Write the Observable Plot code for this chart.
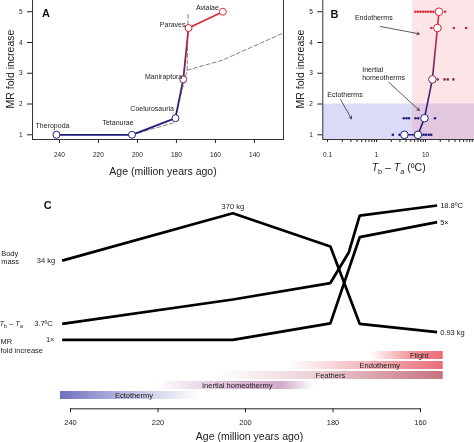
<!DOCTYPE html>
<html>
<head>
<meta charset="utf-8">
<script src="https://cdn.jsdelivr.net/npm/d3@7"></script>
<script src="https://cdn.jsdelivr.net/npm/@observablehq/plot@0.6"></script>
<style>
html,body{margin:0;padding:0;background:#fff;overflow:hidden}
#root{position:relative;width:474px;height:442px;overflow:hidden;background:#fff}
#root svg{position:absolute;max-width:none;will-change:transform}
</style>
</head>
<body>
<div id="root"></div>
<script>
// ---------------- data ----------------
const clades   = ["Theropoda","Tetanurae","Coelurosauria","Maniraptora","Paraves","Avialae"];
const cladeAge = [241.5, 202.8, 180.5, 176.5, 173.8, 156.2];
const mrFold   = [1, 1, 1.54, 2.8, 4.47, 5];
const tempDiff = [3.7, 7.0, 9.5, 13.8, 17.5, 18.8];

// dashed reference curves (panel A)
const refAge1 = [202.8, 181.4, 174.5, 174.0];
const refMR1  = [1, 1.39, 3.1, 4.99];
const refAge2 = [174.5, 156.6, 125.1];
const refMR2  = [3.1, 3.42, 4.31];

// individual taxa (panel B)
const taxaLevels = [1, 1.54, 2.8, 4.47, 5];
const taxaTemps = [
  [2.15, 2.95, 3.3, 8.2, 9.2, 10.3, 11.7, 13.1],
  [3.6, 4.1, 4.6, 6.25, 7.1, 15.6],
  [17.7, 24.5, 28.5, 37],
  [13.2, 37.8, 67.6],
  [6.2, 7.0, 7.9, 8.9, 10.0, 11.3, 12.8, 14.5, 16.5, 25]
];

// shaded zones (panel B)
const zoneNames = ["Ectotherm zone", "Endotherm zone"];
const zoneTempLo = [0.08, 5.4];
const zoneTempHi = [100, 100];
const zoneMRLo   = [0.847, 0.847];
const zoneMRHi   = [2, 5.43];

// annotations (panel B)
const noteText = ["Endotherms", "Inertial\nhomeotherms", "Ectotherms"];
const noteTemp = [0.88, 0.51, 0.227];
const noteMR   = [4.8, 2.98, 2.3];
const arrowTempFrom = [1.2, 1.78, 0.184];
const arrowMRFrom   = [4.52, 2.71, 2.15];
const arrowTempTo   = [7.5, 7.5, 0.308];
const arrowMRTo     = [4.28, 1.79, 1.52];

// panel C series
const massAge = [241.9, 202.9, 180.6, 173.9, 156.2];
const massKg  = [34, 370, 69, 1.42, 0.93];
const tdAge   = [241.9, 202.9, 180.6, 176.4, 173.9, 156.2];
const tdC     = [3.7, 6.8, 8.9, 12.8, 17.5, 18.8];
const mrAge   = [241.9, 202.9, 180.6, 173.9, 156.2];
const mrC     = [1, 1, 1.56, 4.49, 5];

const traitNames   = ["Flight","Endothermy","Feathers","Inertial homeothermy","Ectothermy"];
const traitFrom    = [171.4, 190.5, 206.5, 220.2, 242.3];
const traitTo      = [154.8, 154.8, 154.8, 184.4, 210.3];
const traitLabelAt = [160.3, 169.3, 180.6, 201.9, 225.5];

// ticks
const ageTicksA = [240, 220, 200, 180, 160, 140];
const ageTicksC = [240, 220, 200, 180, 160];
const mrTicks   = [1, 2, 3, 4, 5];
const tempMajor = [0.1, 1, 10];
const tempMinor = [0.2,0.3,0.4,0.5,0.6,0.7,0.8,0.9,2,3,4,5,6,7,8,9,20,30,40,50,60,70,80,90];

// ---------------- helpers ----------------
const FONT = "'Liberation Sans', Arial, Helvetica, sans-serif";
const style = fs => ({background:"transparent", fontFamily:FONT, fontSize:fs+"px", overflow:"visible", color:"#222"});
const root = document.getElementById("root");
function place(svg, left, top){ svg.style.left = left+"px"; svg.style.top = top+"px"; root.appendChild(svg); return svg; }
function addGrad(svg, id, attrs, stops){
  let defs = d3.select(svg).select("defs");
  if (defs.empty()) defs = d3.select(svg).insert("defs", ":first-child");
  const g = defs.append("linearGradient").attr("id", id);
  for (const k in attrs) g.attr(k, attrs[k]);
  for (const [o, c, op] of stops) g.append("stop").attr("offset", o).attr("stop-color", c).attr("stop-opacity", op);
}
function subscriptify(svg){
  svg.querySelectorAll("text").forEach(t => {
    const s = t.textContent;
    if (!s.startsWith("Tb – Ta")) return;
    const rest = s.slice(7);
    const fs = parseFloat(getComputedStyle(t).fontSize) || 10;
    const sh = (fs * 0.28).toFixed(2);
    t.textContent = "";
    const add = (txt, a = {}) => {
      const ts = document.createElementNS("http://www.w3.org/2000/svg", "tspan");
      ts.textContent = txt; for (const k in a) ts.setAttribute(k, a[k]); t.appendChild(ts);
    };
    add("T", {"font-style":"italic"});
    add("b", {dy: sh, "font-size": (fs*0.7)+"px"});
    add(" – ", {dy: -sh});
    add("T", {"font-style":"italic"});
    add("a", {dy: sh, "font-size": (fs*0.7)+"px"});
    add(rest || " ", {dy: -sh});
  });
}

const navy = "#1e1e78", red = "#d8283a";
const colorOpts = {type:"linear", domain:[1, 1.54, 2.8, 4.47, 5], range:[navy, "#2a2282", "#84305e", "#c8283e", "#dc2a3a"]};

const cladeRows = clades.map((name, i) => ({name, age: cladeAge[i], mr: mrFold[i], temp: tempDiff[i]}));
const ref1 = refAge1.map((a, i) => ({age: a, mr: refMR1[i]}));
const ref2 = refAge2.map((a, i) => ({age: a, mr: refMR2[i]}));

// label placement for panel A
const placeA = {
  Theropoda:     {anchor:"middle", dx:-4,   dy:-9.5},
  Tetanurae:     {anchor:"middle", dx:-14,  dy:-12},
  Coelurosauria: {anchor:"end",    dx:-1.5, dy:-9},
  Maniraptora:   {anchor:"end",    dx:-1,   dy:-3},
  Paraves:       {anchor:"end",    dx:-3,   dy:-3},
  Avialae:       {anchor:"end",    dx:-4,   dy:-4}
};
const mid = {textAnchor: "middle", lineAnchor: "middle"};

// ---------------- Panel A ----------------
const A = Plot.plot({
  width: 290, height: 191, marginTop: 10, marginRight: 7, marginBottom: 40, marginLeft: 32,
  style: style(6.5),
  x: {domain: [253.8, 125.1], ticks: ageTicksA, tickFormat: d => String(d), tickSize: 4, tickPadding: 9, label: null},
  y: {domain: [0.847, 5.43], ticks: mrTicks, tickFormat: d => String(d), tickSize: 5, tickPadding: 5, label: null},
  color: colorOpts,
  marks: [
    Plot.frame({stroke: "#333"}),
    Plot.line(ref1, {x: "age", y: "mr", stroke: "#808080", strokeWidth: 1, strokeDasharray: "4,2.5"}),
    Plot.line(ref2, {x: "age", y: "mr", stroke: "#808080", strokeWidth: 1, strokeDasharray: "4,2.5"}),
    Plot.line(cladeRows, {x: "age", y: "mr", stroke: "url(#gradA)", strokeWidth: 1.8}),
    Plot.dot(cladeRows, {x: "age", y: "mr", r: 3.5, fill: "white", stroke: "mr", strokeWidth: 1}),
    ...cladeRows.map(d => Plot.text([d], {x: "age", y: "mr", text: "name", textAnchor: placeA[d.name].anchor,
        dx: placeA[d.name].dx, dy: placeA[d.name].dy, fontSize: 7, fill: "#222"})),
    Plot.text(["A"], {frameAnchor: "top-left", text: d => d, textAnchor: "start", lineAnchor: "middle", dx: 9.5, dy: 15, fontSize: 11, fontWeight: "bold", fill: "#111"}),
    Plot.text(["Age (million years ago)"], {frameAnchor: "bottom", text: d => d, ...mid, dx: 5, dy: 32, fontSize: 10.5}),
    Plot.text(["MR fold increase"], {frameAnchor: "left", text: d => d, ...mid, rotate: -90, dx: -22, fontSize: 10.5})
  ]
});
place(A, 0, -12);
addGrad(A, "gradA", {x1: 0, y1: 1, x2: 0, y2: 0},
  [[0, navy, 1], [0.15, navy, 1], [0.5, "#6a2060", 1], [0.88, red, 1], [1, red, 1]]);

// ---------------- Panel B ----------------
const taxaRows = taxaLevels.flatMap((m, i) => taxaTemps[i].map(t => ({temp: t, mr: m})));
const zoneRows = zoneNames.map((name, i) => ({name, t1: zoneTempLo[i], t2: zoneTempHi[i], m1: zoneMRLo[i], m2: zoneMRHi[i]}));
const noteRows = noteText.map((text, i) => ({text, temp: noteTemp[i], mr: noteMR[i]}));
const arrowRows = arrowTempFrom.map((t, i) => ({t1: t, m1: arrowMRFrom[i], t2: arrowTempTo[i], m2: arrowMRTo[i]}));

const B = Plot.plot({
  width: 184, height: 191, marginTop: 10, marginRight: 0, marginBottom: 40, marginLeft: 32.3,
  style: style(6.5),
  x: {type: "log", domain: [0.08, 100], ticks: [...tempMajor, ...tempMinor],
      tickFormat: d => tempMajor.includes(d) ? String(d) : "", tickSize: 3, tickPadding: 10, label: null},
  y: {domain: [0.847, 5.43], ticks: mrTicks, tickFormat: d => String(d), tickSize: 5, tickPadding: 5, label: null},
  color: colorOpts,
  marks: [
    Plot.rect([zoneRows[0]], {x1: "t1", x2: "t2", y1: "m1", y2: "m2", fill: "rgb(105,105,220)", fillOpacity: 0.24}),
    Plot.rect([zoneRows[1]], {x1: "t1", x2: "t2", y1: "m1", y2: "m2", fill: "rgb(245,120,130)", fillOpacity: 0.2}),
    Plot.frame({stroke: "#333"}),
    Plot.dot(taxaRows, {x: "temp", y: "mr", r: 1.3, fill: "mr", stroke: null}),
    Plot.line(cladeRows, {x: "temp", y: "mr", stroke: "url(#gradB)", strokeWidth: 1.6}),
    Plot.dot(cladeRows, {x: "temp", y: "mr", r: 3.8, fill: "white", stroke: "mr", strokeWidth: 1}),
    Plot.arrow(arrowRows, {x1: "t1", y1: "m1", x2: "t2", y2: "m2", stroke: "#333", strokeWidth: 0.8, headLength: 5}),
    Plot.text([noteRows[0]], {x: "temp", y: "mr", text: "text", fontSize: 7, fill: "#222"}),
    Plot.text([noteRows[1]], {x: "temp", y: "mr", text: "text", textAnchor: "start", lineHeight: 1.15, fontSize: 7, fill: "#222"}),
    Plot.text([noteRows[2]], {x: "temp", y: "mr", text: "text", fontSize: 7, fill: "#222"}),
    Plot.text(["B"], {frameAnchor: "top-left", text: d => d, textAnchor: "start", lineAnchor: "middle", dx: 7.7, dy: 16, fontSize: 11, fontWeight: "bold", fill: "#111"}),
    Plot.text(["Tb – Ta (ºC)"], {frameAnchor: "bottom", text: d => d, ...mid, dy: 27.7, fontSize: 10.5}),
    Plot.text(["MR fold increase"], {frameAnchor: "left", text: d => d, ...mid, rotate: -90, dx: -22.3, fontSize: 10.5})
  ]
});
place(B, 290, -12);
addGrad(B, "gradB", {x1: 0, y1: 1, x2: 0, y2: 0},
  [[0, navy, 1], [0.15, navy, 1], [0.5, "#6a2060", 1], [0.88, red, 1], [1, red, 1]]);

// ---------------- Panel C (base: traits + axis) ----------------
const traitRows = traitNames.map((name, i) => ({name, from: traitFrom[i], to: traitTo[i], at: traitLabelAt[i]}));
const C = Plot.plot({
  width: 474, height: 442, marginLeft: 70, marginRight: 54, marginTop: 0, marginBottom: 33.7,
  style: style(7.5),
  x: {domain: [240, 160], ticks: ageTicksC, tickFormat: d => String(d), tickSize: 4, tickPadding: 7, line: true, label: null},
  y: {domain: traitNames, range: [350, 400.1], paddingInner: 0.17, paddingOuter: 0.08, axis: null},
  marks: [
    ...traitRows.map((d, i) => Plot.barX([d], {x1: "from", x2: "to", y: "name", fill: `url(#trait${i})`})),
    Plot.text(traitRows, {x: "at", y: "name", text: "name", fontSize: 7.5, fill: "#222"}),
    Plot.text(["Age (million years ago)"], {frameAnchor: "bottom", text: d => d, ...mid, dx: 4, dy: 28, fontSize: 10.5}),
    Plot.text(["C"], {frameAnchor: "top-left", text: d => d, textAnchor: "start", lineAnchor: "middle", dx: -26.7, dy: 205, fontSize: 11, fontWeight: "bold", fill: "#111"})
  ]
});
place(C, 0, 0);
const H = {x1: 0, y1: 0, x2: 1, y2: 0};
addGrad(C, "trait0", H, [[0, "#ee6a72", 0], [0.55, "#ee6a72", 0.7], [1, "#ee6a72", 1]]);
addGrad(C, "trait1", H, [[0, "#e56f7a", 0], [0.5, "#e56f7a", 0.5], [1, "#e56f7a", 1]]);
addGrad(C, "trait2", H, [[0, "#c6727f", 0], [0.45, "#c6727f", 0.35], [1, "#c6727f", 1]]);
addGrad(C, "trait3", H, [[0, "#bf88b6", 0], [0.55, "#bf88b6", 0.65], [0.8, "#bf88b6", 0.7], [1, "#bf88b6", 0]]);
addGrad(C, "trait4", H, [[0, "#6f6fbf", 1], [0.4, "#6f6fbf", 0.55], [1, "#6f6fbf", 0]]);

// ---------------- Panel C lines (each with its own y scale) ----------------
function traitLine(ages, vals, yScale, labels){
  const rows = ages.map((a, i) => ({age: a, v: vals[i]}));
  const marks = [Plot.line(rows, {x: "age", y: "v", stroke: "#000", strokeWidth: 2.7, strokeLinejoin: "miter", strokeLinecap: "butt"})];
  for (const L of labels) {
    marks.push(Plot.text([rows[L.i]], {x: "age", y: "v", text: () => L.text, textAnchor: L.anchor || "middle",
      dx: L.dx || 0, dy: L.dy || 0, lineHeight: L.lh || 1, fontSize: 7.5, fill: "#222"}));
  }
  return Plot.plot({
    width: 474, height: 442, marginLeft: 70, marginRight: 54, marginTop: 0, marginBottom: 0,
    style: style(7.5),
    x: {domain: [240, 160], axis: null},
    y: {...yScale, axis: null},
    marks
  });
}
const last = a => a.length - 1;
const Lm = traitLine(massAge, massKg, {type: "log", domain: [0.93, 370], range: [331.7, 212.7]}, [
  {i: 0, text: `${massKg[0]} kg`, anchor: "end", dx: -7},
  {i: 1, text: `${massKg[1]} kg`, dy: -7},
  {i: last(massKg), text: `${massKg[last(massKg)]} kg`, anchor: "start", dx: 3},
  {i: 0, text: "Body\nmass", anchor: "start", dx: -61, dy: -3.3, lh: 1.16}
]);
const Lt = traitLine(tdAge, tdC, {domain: [3.7, 18.8], range: [323.3, 205]}, [
  {i: 0, text: `${tdC[0]}ºC`, anchor: "end", dx: -9.4},
  {i: last(tdC), text: `${tdC[last(tdC)]}ºC`, anchor: "start", dx: 3},
  {i: 0, text: "Tb – Ta", anchor: "start", dx: -62.7}
]);
const Lr = traitLine(mrAge, mrC, {domain: [1, 5], range: [339.3, 221.7]}, [
  {i: 0, text: `${mrC[0]}×`, anchor: "end", dx: -7.7},
  {i: last(mrC), text: `${mrC[last(mrC)]}×`, anchor: "start", dx: 3},
  {i: 0, text: "MR\nfold increase", anchor: "start", dx: -61.7, dy: 5.4, lh: 1.24}
]);
place(Lm, 0, 0); place(Lt, 0, 0); place(Lr, 0, 0);

[A, B, C, Lm, Lt, Lr].forEach(subscriptify);
</script>
</body>
</html>
